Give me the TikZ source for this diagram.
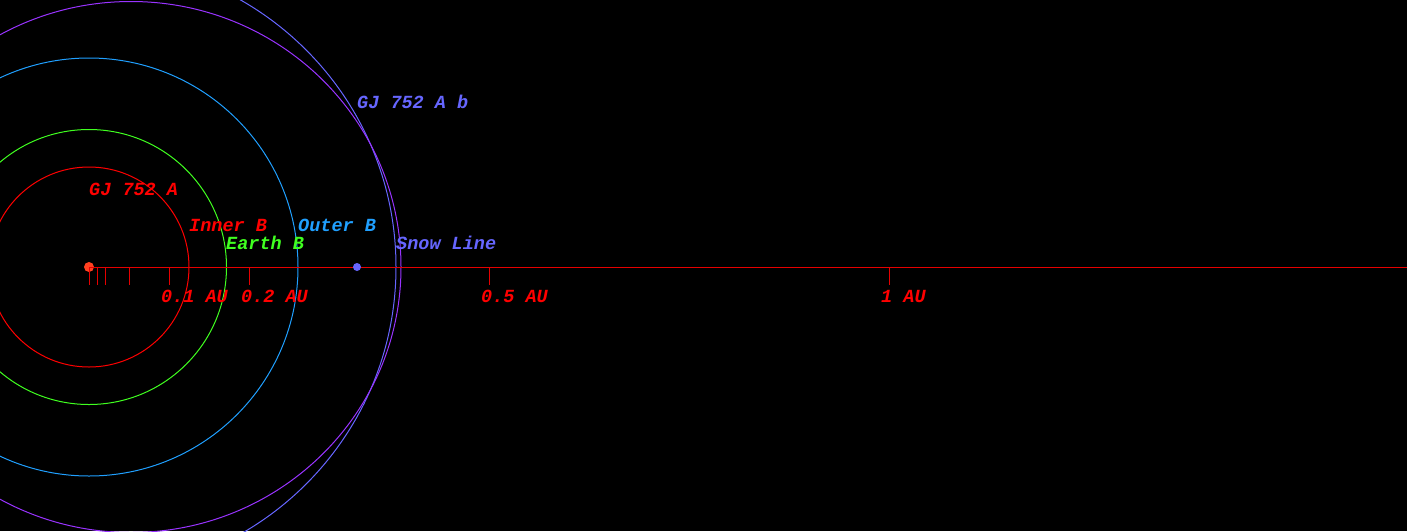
\documentclass[tikz,border=0pt]{standalone}
\usepackage{fontspec}
\setmonofont{Liberation Mono}
\definecolor{axisred}{RGB}{230,0,0}
\definecolor{labred}{RGB}{255,0,0}
\definecolor{hzgreen}{RGB}{64,255,32}
\definecolor{skyb}{RGB}{32,160,255}
\definecolor{violetorb}{RGB}{153,51,255}
\definecolor{slateb}{RGB}{102,102,255}
\definecolor{stardot}{RGB}{255,64,32}
\begin{document}
\begin{tikzpicture}[x=1pt,y=-1pt,
  lab/.style={anchor=base west,inner sep=0pt,font=\fontsize{18.5}{18.5}\selectfont\ttfamily\bfseries\itshape},
  orbit/.style={line width=1pt},
  tick/.style={axisred,line width=1pt}]
\fill[black] (0,0) rectangle (1407,531);
\useasboundingbox (0,0) rectangle (1407,531);
\clip (0,0) rectangle (1407,531);
% orbits
\draw[orbit,labred] (89,267) circle[radius=100];
\draw[orbit,hzgreen] (89,267) circle[radius=137.5];
\draw[orbit,skyb] (89,267) circle[radius=209];
\draw[orbit,slateb] (89,267) circle[radius=307];
\draw[orbit,violetorb] (131,267) ellipse[x radius=270,y radius=265.5];
% axis
\coordinate (axisend) at (1407,267);
\node[circle,fill=stardot,inner sep=0pt,minimum size=10pt] (star) at (89,267) {};
\draw[axisred,line width=1pt] (star.center) -- (axisend);
\foreach \x/\n in {89/t0,97/t1,105/t2,129/t3,169/t4,249/t5,489/t6,889/t7}{
  \coordinate (\n) at (\x,267);
  \draw[tick] (\n) -- ++(0,18);
}
\node[circle,fill=slateb,inner sep=0pt,minimum size=8pt] (planet) at (357,267) {};
% labels
\node[lab,labred] (lstar) at (89,195) {GJ 752 A};
\node[lab,labred] (linner) at (189,231) {Inner B};
\node[lab,hzgreen] (learth) at (226,249) {Earth B};
\node[lab,skyb] (louter) at (298,231) {Outer B};
\node[lab,slateb] (lsnow) at (396,249) {Snow Line};
\node[lab,slateb] (lplanet) at (357,108) {GJ 752 A b};
\node[lab,labred] (l01) at (161,302) {0.1 AU};
\node[lab,labred] (l02) at (241,302) {0.2 AU};
\node[lab,labred] (l05) at (481,302) {0.5 AU};
\node[lab,labred] (l1) at (881,302) {1 AU};
\end{tikzpicture}
\end{document}
